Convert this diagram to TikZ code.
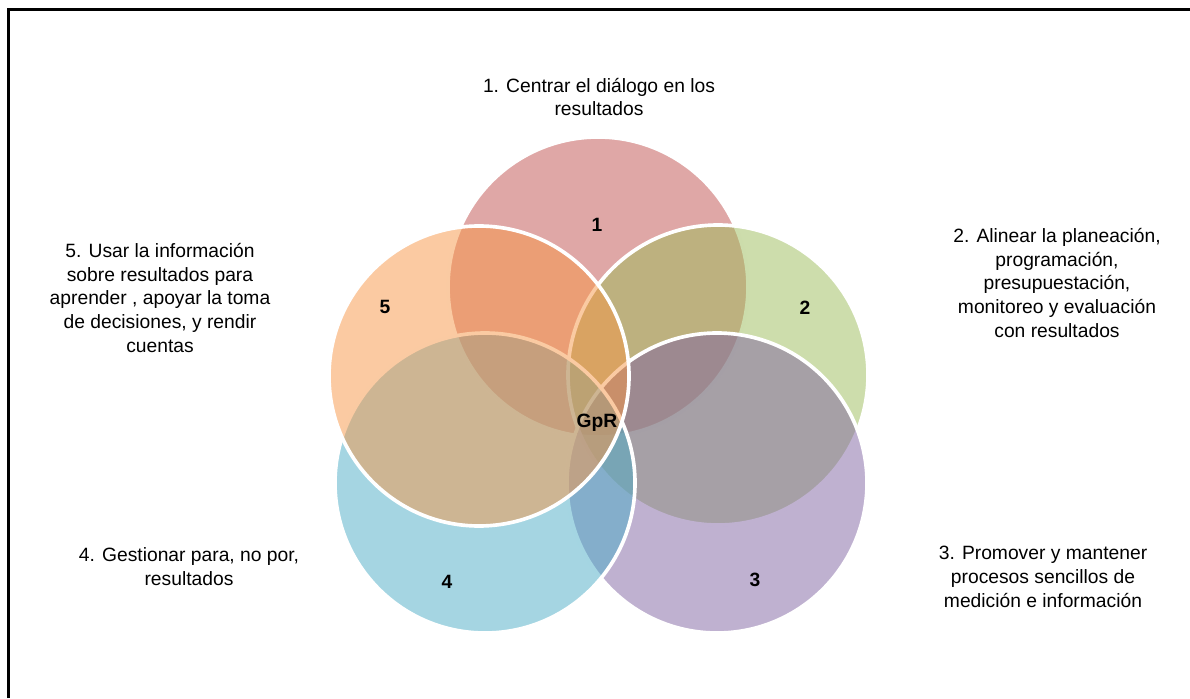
\documentclass[tikz,border=0pt]{standalone}
\usepackage{fontspec}
\setmainfont{Liberation Sans}
\usetikzlibrary{positioning}

\definecolor{vennred}{HTML}{C0504D}
\definecolor{venngreen}{HTML}{9BBB59}
\definecolor{vennpurple}{HTML}{8064A2}
\definecolor{vennblue}{HTML}{4BACC6}
\definecolor{vennorange}{HTML}{F79646}

\tikzset{
  venn/.style={circle, minimum size=7.5cm, inner sep=0pt, draw=white, line width=2.6pt, fill opacity=0.5},
  num/.style={font=\bfseries},
  desc/.style={align=center}
}

\begin{document}
\begin{tikzpicture}
			\fontsize{13.7}{17}\selectfont
			\useasboundingbox (0,0) rectangle (29.75,17.45);
			\draw [line width=2.5pt] (0.2125,0) |- (29.75,17.2125);
			% circles
			\foreach \n/\x/\y/\c in {1/14.95/10.275/vennred, 2/17.95/8.075/venngreen, 3/17.925/5.375/vennpurple, 4/12.125/5.375/vennblue, 5/11.975/8.05/vennorange}
			\node[venn, fill=\c] (c\n) at (\x,\y) {};
			% numbers
			\node[num] (n1) at (14.925,11.825) {1};
			\node[num] (n2) at (20.125,9.75) {2};
			\node[num] (n3) at (18.875,2.95) {3};
			\node[num] (n4) at (11.175,2.9) {4};
			\node[num] (n5) at (9.625,9.775) {5};
			\node[num] (gpr) at (14.925,6.875) {GpR};
			% descriptions
			\node[desc] (d1) at (14.975,15.025) {1. Centrar el diálogo en los\\resultados};
			\node[desc] (d2) at (26.425,10.375) {2. Alinear la planeación,\\programación,\\presupuestación,\\monitoreo y evaluación\\con resultados};
			\node[desc] (d3) at (26.075,3.025) {3. Promover y mantener\\procesos sencillos de\\medición e información};
			\node[desc] (d4) at (4.725,3.275) {4. Gestionar para, no por,\\resultados};
			\node[desc] (d5) at (4.0,10.0) {5. Usar la información\\sobre resultados para\\aprender , apoyar la toma\\de decisiones, y rendir\\cuentas};
		\end{tikzpicture}
\end{document}
